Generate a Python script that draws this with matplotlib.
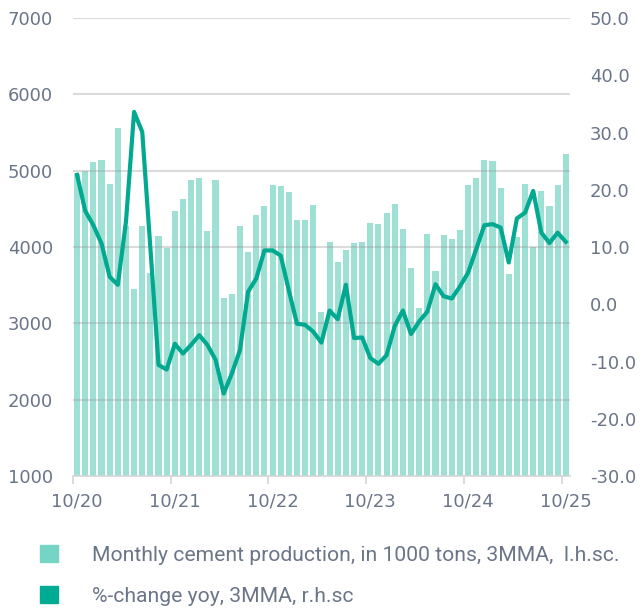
import matplotlib
matplotlib.use("Agg")
import matplotlib.pyplot as plt
from matplotlib.patches import Patch
import numpy as np

# monthly cement production, 1000 tons, 3MMA (10/20 .. 10/25)
production = [4950, 4990, 5113, 5135, 4830, 5553, 4270, 3453, 4272, 3654,
              4146, 3989, 4477, 4630, 4874, 4904, 4207, 4874, 3327, 3384,
              4272, 3941, 4416, 4538, 4808, 4795, 4726, 4351, 4351, 4547,
              3150, 4065, 3804, 3957, 4052, 4065, 4314, 4296, 4449, 4558,
              4240, 3730, 3200, 4166, 3687, 4155, 4111, 4220, 4808, 4908,
              5135, 5122, 4778, 3641, 4133, 4821, 3994, 4730, 4538, 4808,
              5222]
# %-change yoy, 3MMA
yoy = [22.6, 16.3, 13.8, 10.6, 4.8, 3.4, 14.4, 33.6, 30.1, 9.8,
       -10.6, -11.4, -6.9, -8.6, -7.1, -5.4, -7.1, -9.7, -15.6, -12.1,
       -8.0, 2.2, 4.5, 9.4, 9.4, 8.5, 2.4, -3.4, -3.6, -4.8,
       -6.7, -1.1, -2.6, 3.4, -5.9, -5.8, -9.4, -10.4, -8.9, -3.8,
       -1.1, -5.2, -3.0, -1.3, 3.5, 1.4, 1.0, 3.1, 5.5, 9.6,
       13.8, 14.0, 13.4, 7.3, 15.0, 16.0, 19.8, 12.5, 10.7, 12.5,
       10.9]
xlabels = ['10/20', '10/21', '10/22', '10/23', '10/24', '10/25']

bar_col = '#76d4c4'
line_col = '#00a98f'
txt_col = '#6b7588'

plt.rcParams['font.family'] = ['DejaVu Sans']

fig = plt.figure(figsize=(6.41, 6.09), dpi=100)
ax = fig.add_axes([0.1139, 0.2184, 0.7751, 0.752])
x = np.arange(len(production))

ax.bar(x, production, width=0.75, color=bar_col, alpha=0.7, zorder=1)
ax.set_ylim(1000, 7000)
ax.set_yticks(range(1000, 7001, 1000))
ax.set_xlim(-0.5, len(production) - 0.5)
for v in range(2000, 7001, 1000):
    ax.axhline(v, color='#999999', alpha=0.35, lw=1.5, zorder=2)

ax.set_xticks(np.arange(0, 61, 12))
ax.set_xticklabels(xlabels)
ax.set_xticks(np.arange(0, 61, 12) - 0.5, minor=True)
ax.tick_params(axis='x', which='major', length=0, pad=12, labelsize=13, labelcolor=txt_col)
ax.tick_params(axis='x', which='minor', length=6, width=1.2, color='#d5d5d5')
ax.tick_params(axis='y', length=0, pad=14.5, labelsize=13, labelcolor=txt_col)
for s in ['top', 'left', 'right']:
    ax.spines[s].set_visible(False)
ax.spines['bottom'].set_color('#d5d5d5')
ax.spines['bottom'].set_linewidth(1.2)

ax2 = ax.twinx()
ax2.plot(x, yoy, color=line_col, lw=3, zorder=3)
ax2.set_ylim(-30, 50)
ax2.set_yticks(range(-30, 51, 10))
ax2.set_yticklabels([f'{v:.1f}' for v in range(-30, 51, 10)])
ax2.tick_params(axis='y', length=0, pad=14.5, labelsize=13, labelcolor=txt_col)
for s in ax2.spines.values():
    s.set_visible(False)

handles = [Patch(color=bar_col), Patch(color='#00ab93')]
labels = ['Monthly cement production, in 1000 tons, 3MMA,  l.h.sc.',
          '%-change yoy, 3MMA, r.h.sc']
leg = fig.legend(handles, labels, loc='upper left',
                 bbox_to_anchor=(0.0624, 1 - 545 / 609),
                 frameon=False, borderpad=0, borderaxespad=0, handlelength=0.85,
                 handleheight=0.85, handletextpad=1.6, labelspacing=1.0,
                 prop={'family': 'Roboto', 'size': 15.2})
for t in leg.get_texts():
    t.set_color(txt_col)

fig.savefig('out.png', dpi=100)
